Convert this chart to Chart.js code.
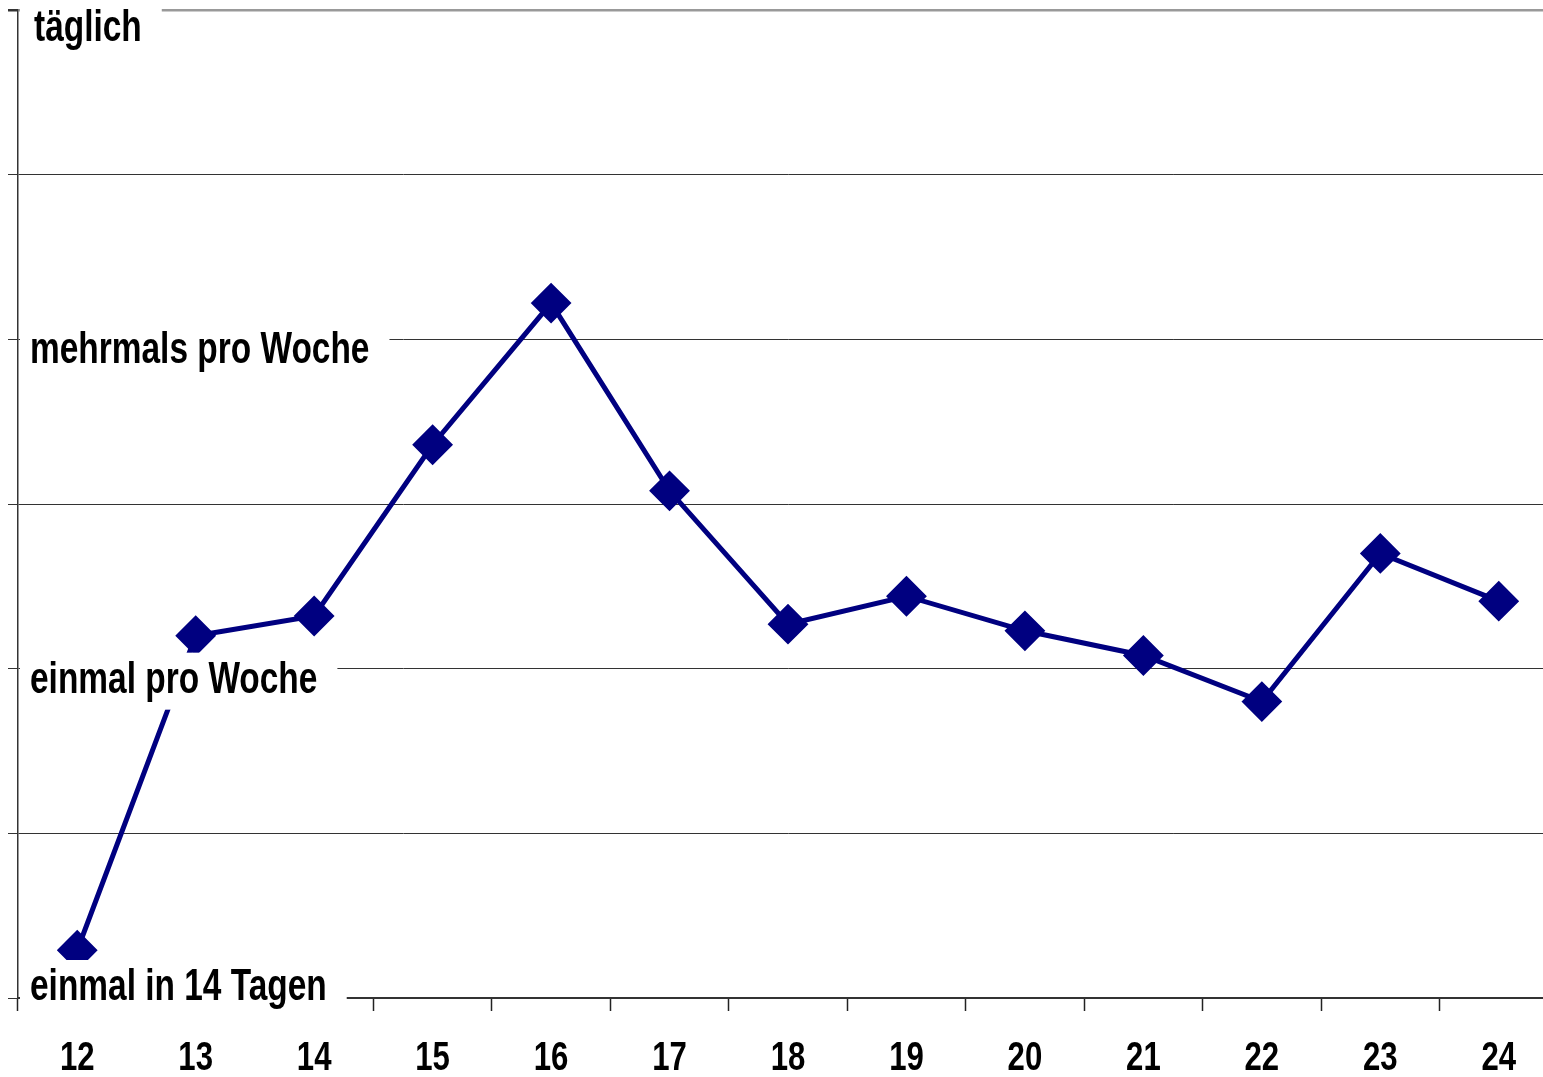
<!DOCTYPE html>
<html lang="de">
<head>
<meta charset="utf-8">
<title>Häufigkeit nach Alter</title>
<script src="https://cdn.jsdelivr.net/npm/chart.js@4.4.1/dist/chart.umd.min.js"></script>
<style>
    html, body { margin: 0; padding: 0; background: #fff; overflow: hidden; }
    #frame { width: 1543px; height: 1077px; overflow: hidden; position: relative; }
    #wrap { width: 1560px; height: 1077px; position: absolute; left: 0; top: 0; }
</style>
</head>
<body>
<div id="frame"><div id="wrap"><canvas id="lineChart" width="1560" height="1077"></canvas></div></div>
<script>
const ages = ['12', '13', '14', '15', '16', '17', '18', '19', '20', '21', '22', '23', '24'];
const frequency = [0.29, 2.2, 2.32, 3.36, 4.22, 3.08, 2.27, 2.44, 2.23, 2.08, 1.8, 2.7, 2.41];
const levelValues = [0, 2, 4, 6];
const levelLabels = ['einmal in 14 Tagen', 'einmal pro Woche', 'mehrmals pro Woche', 'täglich'];

const fontFamily = '"Liberation Sans", Arial, sans-serif';
const narrow = 0.76; // no Arial Narrow here, so squeeze the bold face

function narrowText(ctx, text, x, y, align) {
    const w = ctx.measureText(text).width * narrow;
    ctx.save();
    ctx.translate(align === 'center' ? x - w / 2 : x, y);
    ctx.scale(narrow, 1);
    ctx.textAlign = 'left';
    ctx.fillText(text, 0, 0);
    ctx.restore();
    return w;
}

// level labels sit inside the plot on a white box, on top of the line;
// category labels are drawn squeezed under the x axis
const labelPlugin = {
    id: 'narrowLabels',
    afterDatasetsDraw(chart) {
        const ctx = chart.ctx;
        const area = chart.chartArea;
        const yScale = chart.scales.y;
        const xScale = chart.scales.x;
        ctx.save();
        ctx.textBaseline = 'alphabetic';
        ctx.font = 'bold 44px ' + fontFamily;
        levelValues.forEach((v, i) => {
            const y = yScale.getPixelForValue(v);
            let base = y + 24;
            let textX = area.left + 12;
            if (base > area.bottom + 2) base = area.bottom + 2;
            if (base < area.top + 31) {
                base = area.top + 31;
                textX = area.left + 16;
            }
            const w = ctx.measureText(levelLabels[i]).width * narrow;
            ctx.fillStyle = '#fff';
            ctx.fillRect(area.left + 2, Math.max(base - 40, area.top - 2), textX - area.left + w + 18, 57);
            ctx.fillStyle = '#000';
            narrowText(ctx, levelLabels[i], textX, base, 'left');
        });
        ctx.font = 'bold 41px ' + fontFamily;
        ctx.fillStyle = '#000';
        ages.forEach((a, i) => {
            narrowText(ctx, a, xScale.getPixelForValue(i), area.bottom + 72, 'center');
        });
        ctx.restore();
    }
};

const ctx = document.getElementById('lineChart').getContext('2d');
new Chart(ctx, {
    type: 'line',
    data: {
        labels: ages,
        datasets: [{
            data: frequency,
            borderColor: '#000080',
            backgroundColor: '#000080',
            borderWidth: 5,
            tension: 0,
            pointStyle: 'rectRot',
            pointRadius: 19,
            pointBorderWidth: 2,
            pointBackgroundColor: '#000080',
            pointBorderColor: '#000080',
            fill: false
        }]
    },
    options: {
        responsive: false,
        animation: false,
        layout: {
            autoPadding: false,
            padding: { left: 8, right: 2, top: 10, bottom: 66 }
        },
        plugins: {
            legend: { display: false },
            tooltip: { enabled: false }
        },
        scales: {
            x: {
                offset: true,
                grid: {
                    offset: true,
                    drawOnChartArea: false,
                    tickLength: 13,
                    tickColor: '#222',
                    tickWidth: 1.5
                },
                border: { color: '#333', width: 2 },
                ticks: { display: false }
            },
            y: {
                min: 0,
                max: 6,
                ticks: { display: false, stepSize: 1 },
                grid: {
                    color: c => c.tick && c.tick.value === 6 ? '#999' : '#333',
                    lineWidth: c => c.tick && c.tick.value === 6 ? 2.5 : 1,
                    tickColor: '#333',
                    tickLength: 10
                },
                border: { color: '#333', width: 1.5 }
            }
        }
    },
    plugins: [labelPlugin]
});
</script>
</body>
</html>
